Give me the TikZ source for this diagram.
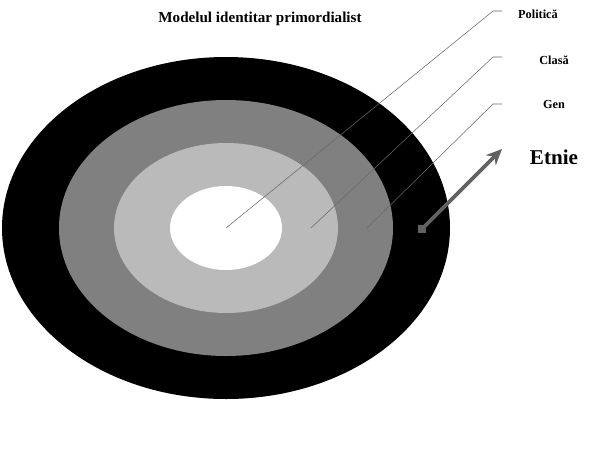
\documentclass[tikz,border=0pt]{standalone}
\usepackage{fontspec}
\setmainfont{Liberation Serif}
\usetikzlibrary{arrows.meta}
\tikzset{
  eticheta/.style={anchor=base, inner sep=0pt, font=\bfseries\fontsize{7}{8}\selectfont},
  ghid/.style={draw=black!60, line width=0.3pt},
}
\begin{document}
\begin{tikzpicture}[x=0.02cm, y=-0.02cm]
    \useasboundingbox (0,0) rectangle (602,457);
    % Cercurile identitare
    \coordinate (centru) at (226,228);
    \fill[black] (centru) ellipse [x radius=224, y radius=171];
    \fill[black!50] (centru) ellipse [x radius=167, y radius=128];
    \fill[black!27] (centru) ellipse [x radius=112, y radius=85];
    \fill[white] (centru) ellipse [x radius=56, y radius=42];
    % Titlu
    \node[anchor=base, inner sep=0pt, font=\bfseries\fontsize{8.6}{10}\selectfont] (titlu) at (260,22) {Modelul identitar primordialist};
    % Etichete
    \node[eticheta] (politica) at (538,18) {Politică};
    \node[eticheta] (clasa) at (554,64) {Clasă};
    \node[eticheta] (gen) at (554,108) {Gen};
    \node[anchor=base, inner sep=0pt, font=\bfseries\fontsize{12}{13}\selectfont] (etnie) at (554,164) {Etnie};
    % Linii de legatura
    \coordinate (pClasa) at (311,228);
    \coordinate (pGen) at (367,228);
    \coordinate (capPolitica) at (502,11);
    \coordinate (capClasa) at (502,57);
    \coordinate (capGen) at (502,104);
    \draw[ghid] (centru) -- (493,11) -- (capPolitica);
    \draw[ghid] (pClasa) -- (493,57) -- (capClasa);
    \draw[ghid] (pGen) -- (493,104) -- (capGen);
    % Sageata
    \node[fill=black!62, minimum size=8*0.02cm, inner sep=0pt] (sursa) at (422,229) {};
    \coordinate (varf) at (502,149);
    \draw[black!62, line width=2.2pt, -{Stealth[length=9pt, width=8pt]}] (sursa.center) -- (varf);
\end{tikzpicture}
\end{document}
